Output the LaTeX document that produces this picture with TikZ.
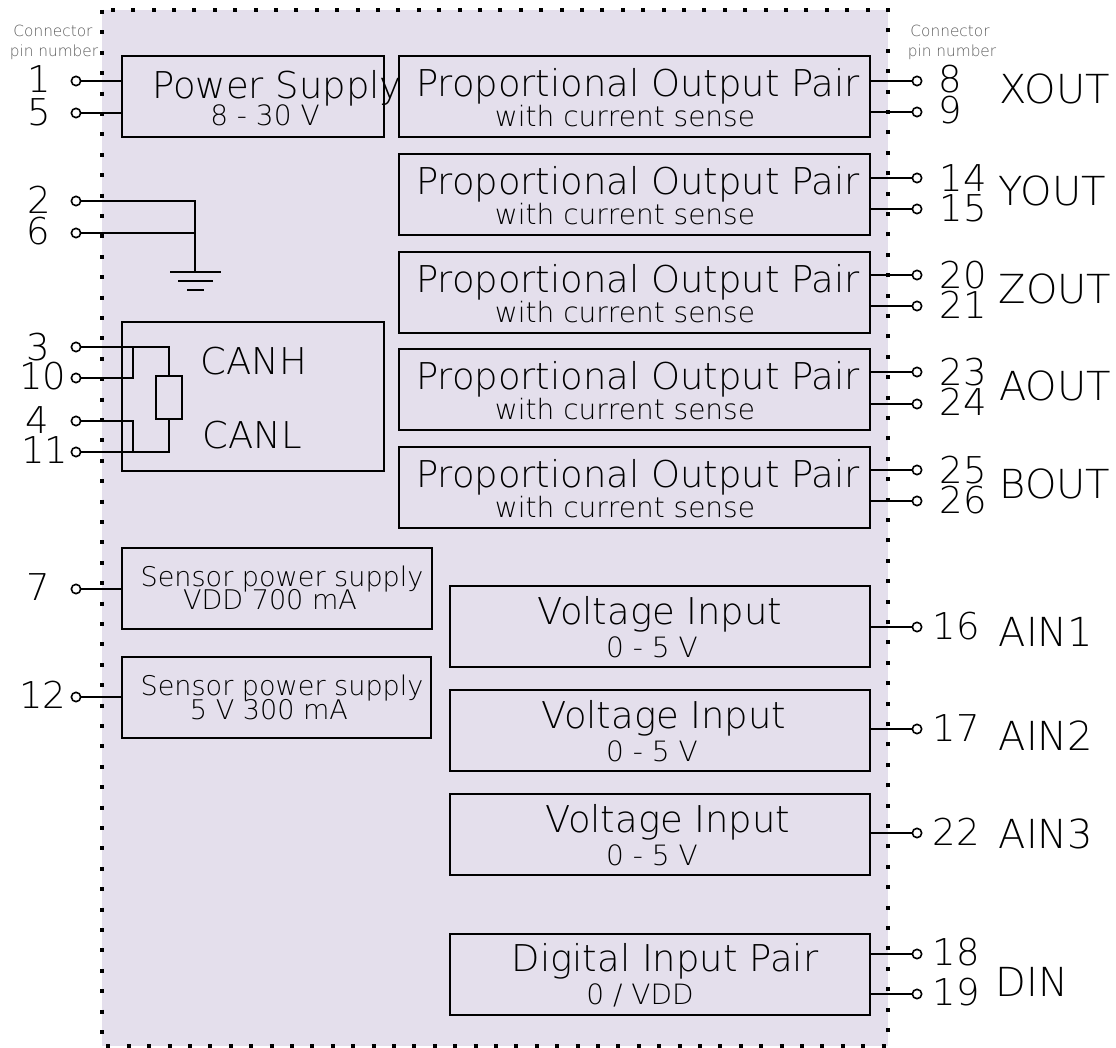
\documentclass[tikz,border=0pt]{standalone}
\usepackage{fontspec}
\setmainfont{DejaVu Sans ExtraLight}
\definecolor{boardfill}{HTML}{E4DFEC}
\tikzset{
    block/.style={draw,line width=1.5pt,anchor=north west,inner sep=0pt,outer sep=0pt},
    wire/.style={line width=1.5pt},
    terminal/.style={circle,draw,line width=1.2pt,inner sep=0pt,minimum size=7pt},
    big/.style={font=\fontsize{27.7}{27.7}\selectfont,inner sep=0pt},
    signal/.style={font=\fontsize{30}{30}\selectfont,inner sep=0pt},
    mid/.style={font=\fontsize{21}{21}\selectfont,inner sep=0pt},
    sensor/.style={font=\fontsize{20.3}{20.3}\selectfont,inner sep=0pt},
    caption/.style={font=\fontsize{11.5}{11.5}\selectfont,text=black!65,inner sep=0pt}
}
\begin{document}
\begin{tikzpicture}[x=0.75pt,y=-0.75pt]
    \useasboundingbox (0,0) rectangle (1116,1048);

    \node[anchor=north west,fill=boardfill,minimum width=589.5pt,minimum height=777pt,inner sep=0pt,outer sep=0pt] (board) at (102,10) {};
    \draw[line width=3pt,dash pattern=on 3pt off 12.3pt] (board.north west) rectangle (board.south east);

    \node[caption] (capl1) at (53,31) {Connector};
    \node[caption] (capl2) at (54,52) {pin number};
    \node[caption] (capr1) at (950,31) {Connector};
    \node[caption] (capr2) at (952,52) {pin number};

    % left blocks
    \node[block,minimum width=196.5pt,minimum height=60.75pt] (power) at (122,56) {};
    \node[big] (powertxt) at (277,88) {Power Supply};
    \node[mid] (powersub) at (265,115) {8 - 30 V};

    \node[block,minimum width=196.5pt,minimum height=111.75pt] (can) at (122,322) {};
    \node[big] (canh) at (254,361) {CANH};
    \node[big] (canl) at (252,435) {CANL};

    \node[block,minimum width=232.5pt,minimum height=60.75pt] (sensa) at (122,548) {};
    \node[sensor] (sensatxt) at (282,579) {Sensor power supply};
    \node[sensor] (sensasub) at (270,600) {VDD 700 mA};
    \node[block,minimum width=231.75pt,minimum height=60.75pt] (sensb) at (122,657) {};
    \node[sensor] (sensbtxt) at (282,688) {Sensor power supply};
    \node[sensor] (sensbsub) at (269,710) {5 V 300 mA};

    % output blocks
    \foreach \n/\y in {1/56,2/154,3/252,4/349,5/447} {
    \node[block,minimum width=353.25pt,minimum height=60.75pt] (out\n) at (399,\y) {};
    \node[big] (outtxt\n) at (638,\y+30) {Proportional Output Pair};
    \node[mid] (outsub\n) at (625,\y+60) {with current sense};
    }

    % input blocks
    \foreach \n/\y/\x in {1/586/660,2/690/664,3/794/668} {
    \node[big] (vintxt\n) at (\x,\y+28) {Voltage Input};
    \node[block,minimum width=315pt,minimum height=60.75pt] (vin\n) at (450,\y) {};
    \node[mid] (vinsub\n) at (652,\y+61) {0 - 5 V};
    }
    \node[block,minimum width=315pt,minimum height=60.75pt] (din) at (450,934) {};
    \node[big] (dintxt) at (665,961) {Digital Input Pair};
    \node[mid] (dinsub) at (640,995) {0 / VDD};

    % pins, left side
    \foreach \p/\y/\lx/\ly in {1/81/39/79,5/113/39/112,2/201/39/200,6/233/38/231,3/347/38/347,10/378/43/376,4/421/37/420,11/452/45/450,7/589/38/587,12/697/43/695} {
    \node[terminal] (pin\p) at (76,\y) {};
    \node[big] (num\p) at (\lx,\ly) {\p};
    }
    % pins, right side
    \foreach \p/\y/\lx/\ly in {8/81/950/79,9/112/950/110,14/178/963/178,15/209/963/208,20/275/963/275,21/306/963/305,23/372/963/372,24/404/963/402,25/470/963/470,26/501/963/500,16/627/956/626,17/729/956/728,22/833/956/832,18/954/956/952,19/994/956/992} {
    \node[terminal] (pin\p) at (917,\y) {};
    \node[big] (num\p) at (\lx,\ly) {\p};
    }

    \foreach \t/\x/\y in {XOUT/1055/89,YOUT/1052/191,ZOUT/1055/289,AOUT/1055/386,BOUT/1055/484,AIN1/1046/632,AIN2/1046/736,AIN3/1046/834,DIN/1032/982} {
    \node[signal] (name\t) at (\x,\y) {\t};
    }

    \foreach \p in {1,5} {
    \draw[wire] (pin\p) -- (pin\p -| power.west);
    }
    \draw[wire] (pin7) -- (pin7 -| sensa.west);
    \draw[wire] (pin12) -- (pin12 -| sensb.west);

    \foreach \p/\b in {8/out1,9/out1,14/out2,15/out2,20/out3,21/out3,23/out4,24/out4,25/out5,26/out5,16/vin1,17/vin2,22/vin3,18/din,19/din} {
    \draw[wire] (pin\p -| \b.east) -- (pin\p);
    }

    % ground
    \coordinate (gnd) at (195,272);
    \draw[wire] (pin2) -| (gnd);
    \draw[wire] (pin6) -- (pin6 -| gnd);
    \draw[wire] (170,272) -- (221,272);
    \draw[wire] (178,281) -- (213,281);
    \draw[wire] (187,290) -- (204,290);

    % termination
    \node[block,minimum width=19.5pt,minimum height=32.25pt] (res) at (156,376) {};
    \draw[wire] (pin3) -| (res.north);
    \draw[wire] (pin11) -| (res.south);
    \coordinate (canhtap) at (133,347);
    \coordinate (canltap) at (133,452);
    \draw[wire] (pin10) -| (canhtap);
    \draw[wire] (pin4) -| (canltap);
\end{tikzpicture}
\end{document}
